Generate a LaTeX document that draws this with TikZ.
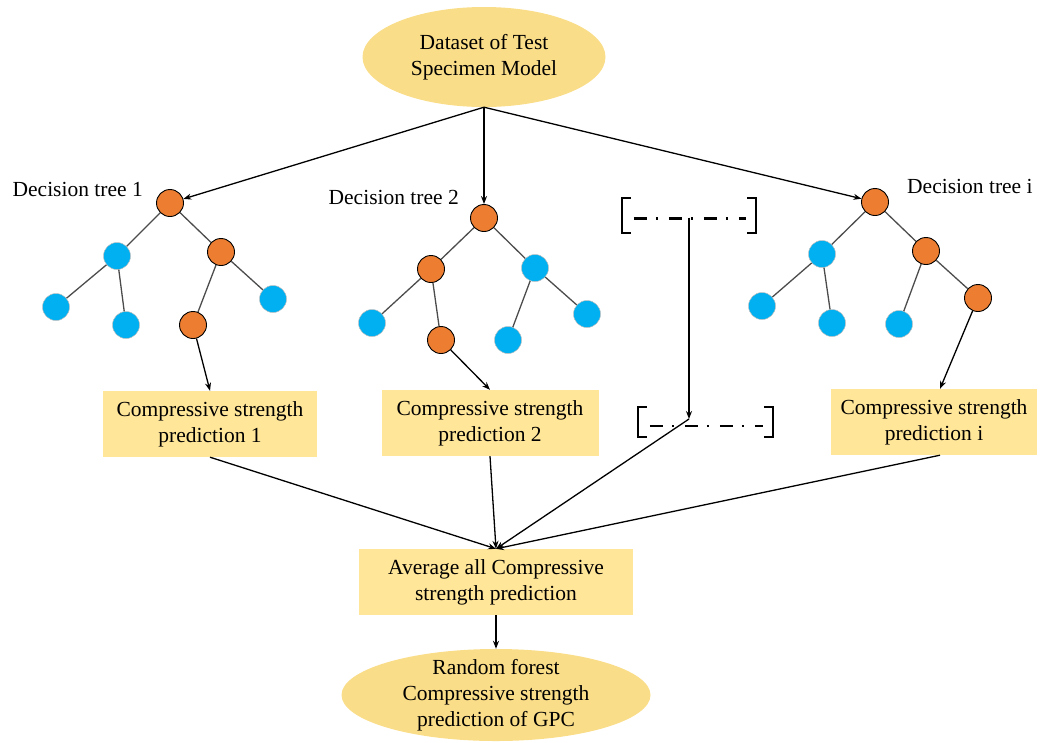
\documentclass[tikz,border=0pt]{standalone}
\usepackage{fontspec}
\setmainfont{Liberation Serif}
\usetikzlibrary{arrows.meta,shapes.geometric}
\definecolor{boxyellow}{HTML}{FFE699}
\definecolor{ellyellow}{HTML}{FADD89}
\definecolor{nodeorange}{HTML}{ED7D31}
\definecolor{nodeblue}{HTML}{00B0F0}
\tikzset{
    onode/.style={circle, fill=nodeorange, draw=black, line width=0.9pt, minimum size=27pt, inner sep=0pt},
    bnode/.style={circle, fill=nodeblue, draw=gray!50, line width=0.5pt, minimum size=27pt, inner sep=0pt},
    branch/.style={draw=black!70, line width=1.3pt},
    predbox/.style={rectangle, fill=boxyellow, minimum height=66pt, align=center, font=\fontsize{21.5}{26}\selectfont},
    blob/.style={ellipse, fill=ellyellow, align=center, font=\fontsize{21.5}{26}\selectfont},
    flow/.style={-{Stealth[length=8pt,width=6pt]}, line width=1.3pt},
    treelabel/.style={font=\fontsize{21.5}{24}\selectfont, inner sep=0pt},
    bracket/.style={line width=1.6pt},
    dashdotline/.style={line width=2.8pt, dash pattern=on 13pt off 9pt on 2.5pt off 10.5pt},
}
\begin{document}
\begin{tikzpicture}[x=1pt, y=-1pt]
    \useasboundingbox (0,0) rectangle (1040,742);
    % 数据集
    \node[blob, minimum width=243pt, minimum height=100pt] (data) at (484,57) {Dataset of Test\\Specimen Model};

    % 决策树 1
    \node[onode] (a0) at (170,203) {};
    \node[bnode] (a1) at (117,256) {};
    \node[onode] (a2) at (221,252) {};
    \node[bnode] (a3) at (56,307) {};
    \node[bnode] (a4) at (126,325) {};
    \node[onode] (a5) at (193,325) {};
    \node[bnode] (a6) at (273,299) {};
    \draw[branch] (a0) -- (a1);
    \draw[branch] (a0) -- (a2);
    \draw[branch] (a1) -- (a3);
    \draw[branch] (a1) -- (a4);
    \draw[branch] (a2) -- (a5);
    \draw[branch] (a2) -- (a6);
    \node[treelabel, anchor=base east] (labA) at (143,196) {Decision tree 1};

    % 决策树 2
    \node[onode] (b0) at (484,218) {};
    \node[onode] (b1) at (431,269) {};
    \node[bnode] (b2) at (535,268) {};
    \node[bnode] (b3) at (372,323) {};
    \node[onode] (b4) at (441,340) {};
    \node[bnode] (b5) at (508,340) {};
    \node[bnode] (b6) at (587,314) {};
    \draw[branch] (b0) -- (b1);
    \draw[branch] (b0) -- (b2);
    \draw[branch] (b1) -- (b3);
    \draw[branch] (b1) -- (b4);
    \draw[branch] (b2) -- (b5);
    \draw[branch] (b2) -- (b6);
    \node[treelabel, anchor=base east] (labB) at (459,204) {Decision tree 2};

    % 决策树 i
    \node[onode] (c0) at (875,202) {};
    \node[bnode] (c1) at (822,254) {};
    \node[onode] (c2) at (926,251) {};
    \node[bnode] (c3) at (762,306) {};
    \node[bnode] (c4) at (832,323) {};
    \node[bnode] (c5) at (899,324) {};
    \node[onode] (c6) at (978,298) {};
    \draw[branch] (c0) -- (c1);
    \draw[branch] (c0) -- (c2);
    \draw[branch] (c1) -- (c3);
    \draw[branch] (c1) -- (c4);
    \draw[branch] (c2) -- (c5);
    \draw[branch] (c2) -- (c6);
    \node[treelabel, anchor=base west] (labC) at (907,193) {Decision tree i};

    % 省略号
    \node[minimum width=134pt, minimum height=35pt, inner sep=0pt] (dotsA) at (689,215.5) {};
    \node[minimum width=135pt, minimum height=30pt, inner sep=0pt] (dotsB) at (705.5,422) {};
    \foreach \d in {dotsA,dotsB} {
        \draw[bracket] ([xshift=9pt]\d.north west) -- (\d.north west) -- (\d.south west) -- ([xshift=9pt]\d.south west);
        \draw[bracket] ([xshift=-9pt]\d.north east) -- (\d.north east) -- (\d.south east) -- ([xshift=-9pt]\d.south east);
    }
    \draw[dashdotline] ([xshift=12pt,yshift=-3pt]dotsA.west) -- ([xshift=-10pt,yshift=-3pt]dotsA.east);
    \draw[dashdotline] ([xshift=12pt,yshift=-4pt]dotsB.west) -- ([xshift=-10pt,yshift=-4pt]dotsB.east);
    \coordinate (dotsIn) at (689,419);

    % 预测结果
    \node[predbox, minimum width=214pt] (p1) at (210,424) {Compressive strength\\prediction 1};
    \node[predbox, minimum width=217pt] (p2) at (490,423) {Compressive strength\\prediction 2};
    \node[predbox, minimum width=206pt] (pi) at (934,422) {Compressive strength\\prediction i};
    \node[predbox, minimum width=274pt] (avg) at (496,582) {Average all Compressive\\strength prediction};
    \node[blob, minimum width=309pt, minimum height=92pt, inner xsep=0pt, inner ysep=-4pt] (rf) at (496,695) {Random forest\\Compressive strength\\prediction of GPC};

    % 箭头
    \draw[flow] (data.south) -- (a0);
    \draw[flow] (data.south) -- (b0);
    \draw[flow] (data.south) -- (c0);
    \draw[flow] (a5) -- (p1.north);
    \draw[flow] (b4) -- (p2.north);
    \draw[flow] (c6) -- ([xshift=6pt]pi.north);
    \draw[flow] ([yshift=-2pt]dotsA.center) -- (dotsIn);
    \draw[flow] (p1.south) -- (avg.north);
    \draw[flow] (p2.south) -- (avg.north);
    \draw[flow] (dotsIn) -- (avg.north);
    \draw[flow] ([xshift=6pt]pi.south) -- (avg.north);
    \draw[flow] (avg.south) -- (rf.north);
\end{tikzpicture}
\end{document}
